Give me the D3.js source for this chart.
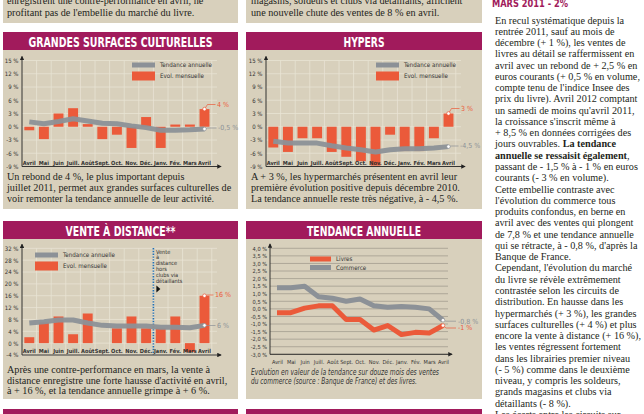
<!DOCTYPE html>
<html><head><meta charset="utf-8">
<script src="https://cdn.jsdelivr.net/npm/d3@7"></script>
<style>body{margin:0;background:#fff}svg{display:block}</style>
</head><body>
<svg id="c" width="644" height="414"></svg>
<script>
// ---------- DATA ----------
const months = ["Avril","Mai","Juin","Juill.","Août","Sept.","Oct.","Nov.","Déc.","Janv.","Fév.","Mars","Avril"];
const gscMonthly = [-0.8,-2.8,3.0,4.2,0.6,-2.8,-1.8,-4.8,2.2,-4.8,0.5,0.5,4.0];
const gscTrend   = [1.1,0.7,1.2,1.8,1.3,0.8,0.7,0.2,-0.2,-0.8,-0.8,-0.7,-0.5];
const hypMonthly = [-4.7,-5.7,-2.6,-2.6,-5.7,-6.8,-7.8,-8.8,-1.8,-5.5,-5.5,-2.6,3.0];
const hypTrend   = [-3.3,-3.7,-3.7,-3.7,-4.3,-4.8,-5.2,-5.7,-5.2,-5.0,-5.0,-4.8,-4.5];
const vadMonthly = [2.0,7.0,9.0,3.0,10.0,0.0,5.0,9.0,5.0,5.0,9.0,-3.0,16.0];
const vadTrend   = [6.8,7.2,7.8,7.8,6.8,6.0,5.8,5.8,5.8,5.4,5.4,5.2,6.0];
const livres     = [-0.25,-0.25,0.05,0.2,0.2,-0.7,-0.7,-1.4,-1.1,-1.7,-1.55,-1.6,-1.1];
const commerce   = [1.4,1.4,1.5,0.8,0.7,0.5,0.65,0.2,0.1,0.15,0.1,0.0,-0.75];
const ticksGSC   = [15,12,9,6,3,0,-3,-6,-9];
const ticksVAD   = [32,28,24,20,16,12,8,4,0,-4];
const ticksTend  = [4,3.5,3,2.5,2,1.5,1,0.5,0,-0.5,-1,-1.5,-2,-2.5,-3];
const legendBar  = ["Tendance annuelle","Evol. mensuelle"];
const legendTend = ["Livres","Commerce"];

const C = {beige:"#d8d0bc", grid:"#e9e3d4", red:"#eb5a3a", gray:"#8c9197", mag:"#a11b5c", text:"#231f20", tgrid:"#a39d8f"};
const SANS = "'Liberation Sans Narrow','DejaVu Sans Condensed','Roboto Condensed',sans-serif";
const SERIF = "'Liberation Serif','Times New Roman',serif";
const svg = d3.select("#c");

// ---------- LAYOUT ----------
[[3,0,235,23],[246,0,236,23],[3,50,235,159],[246,50,236,159],[3,239,235,160],[246,239,236,160]]
 .forEach(([x,y,w,h])=>svg.append("rect").attr("x",x).attr("y",y).attr("width",w).attr("height",h).attr("fill",C.beige));
[[3,409,235,5],[246,409,236,5]].forEach(([x,y,w,h])=>svg.append("rect").attr("x",x).attr("y",y).attr("width",w).attr("height",h).attr("fill",C.mag));

function header(x,w,y,t,len){
  svg.append("rect").attr("x",x).attr("y",y).attr("width",w).attr("height",18).attr("fill",C.mag);
  svg.append("text").attr("x",x+w/2).attr("y",y+14.5).attr("text-anchor","middle")
    .attr("textLength",len).attr("lengthAdjust","spacingAndGlyphs")
    .attr("font-family",SANS).attr("font-weight","bold").attr("font-size",14).attr("fill","#fff").text(t);
}
header(3,235,32,"GRANDES SURFACES CULTURELLES",184);
header(246,236,32,"HYPERS",41);
header(3,235,221,"VENTE À DISTANCE**",110);
header(246,236,221,"TENDANCE ANNUELLE",114);

// arrow marker
const defs = svg.append("defs");
defs.append("marker").attr("id","arr").attr("viewBox","0 0 6 6").attr("refX",5).attr("refY",3)
  .attr("markerWidth",5).attr("markerHeight",5).attr("orient","auto")
  .append("path").attr("d","M0,0L6,3L0,6Z").attr("fill","#222");

function textLines(x,y0,lh,lines,size){
  const t = svg.append("g").attr("font-family",SERIF).attr("font-size",size).attr("fill",C.text);
  lines.forEach((ln,i)=>{
    const el = t.append("text").attr("x",x).attr("y",y0+i*lh);
    (Array.isArray(ln)?ln:[[ln,false]]).forEach(([s,b])=>el.append("tspan").attr("font-weight",b?"bold":null).text(s));
  });
}

// ---------- BAR CHARTS ----------
function barChart(cfg){
  const g = svg.append("g");
  const ax = cfg.ox+22, n = months.length, step = 14.6, right = cfg.ox+217;
  const x = d3.scaleBand().domain(d3.range(n)).range([ax, ax+n*step]).paddingInner(0.32).paddingOuter(0.16);
  const y = d3.scaleLinear().domain(cfg.domain).range(cfg.range);
  const top = y(cfg.domain[1]), bot = y(cfg.domain[0]);
  g.selectAll(".hg").data(cfg.ticks).join("line").attr("x1",ax).attr("x2",right)
    .attr("y1",d=>y(d)).attr("y2",d=>y(d)).attr("stroke",C.grid).attr("stroke-width",0.8);
  g.selectAll(".vg").data(d3.range(1,n+1)).join("line")
    .attr("x1",i=>ax+i*x.step()).attr("x2",i=>ax+i*x.step()).attr("y1",top).attr("y2",bot)
    .attr("stroke",C.grid).attr("stroke-width",0.8);
  if(cfg.extra) cfg.extra(g,x,y,ax);
  g.selectAll(".bar").data(cfg.monthly).join("rect").attr("x",(d,i)=>x(i)).attr("width",x.bandwidth())
    .attr("y",d=>y(Math.max(0,d))).attr("height",d=>Math.abs(y(d)-y(0))).attr("fill",C.red);
  const line = d3.line().x((d,i)=>x(i)+x.bandwidth()/2).y(d=>y(d));
  g.append("path").datum(cfg.trend).attr("d",line).attr("fill","none").attr("stroke",C.gray)
    .attr("stroke-width",5).attr("stroke-linejoin","round").attr("stroke-opacity",0.95);
  // axes
  const ya = g.append("g").attr("transform",`translate(${ax},0)`)
    .call(d3.axisLeft(y).tickValues(cfg.ticks).tickSize(0).tickPadding(3.5).tickFormat(d=>d+" %"));
  ya.select(".domain").remove();
  ya.selectAll("text").attr("font-family",SANS).attr("font-size",6).attr("fill","#333");
  g.append("line").attr("x1",ax).attr("x2",ax).attr("y1",bot).attr("y2",top-4).attr("stroke","#222").attr("stroke-width",0.9).attr("marker-end","url(#arr)");
  g.append("line").attr("x1",ax).attr("x2",right+4).attr("y1",bot).attr("y2",bot).attr("stroke","#222").attr("stroke-width",0.9).attr("marker-end","url(#arr)");
  const xa = g.append("g").attr("transform",`translate(${x.bandwidth()/2*0},${bot-2})`)
    .call(d3.axisBottom(x).tickSize(0).tickFormat(i=>months[i]));
  xa.select(".domain").remove();
  xa.selectAll("text").attr("y",0).attr("dy",0).attr("font-family",SANS).attr("font-weight","bold")
    .attr("font-size",5.6).attr("fill","#333");
  // legend
  const L = cfg.leg;
  g.append("rect").attr("x",L.x).attr("y",L.y1-2.5).attr("width",23).attr("height",5).attr("fill",C.gray);
  g.append("rect").attr("x",L.x).attr("y",L.y2-4.5).attr("width",23).attr("height",9).attr("fill",C.red);
  [L.y1,L.y2].forEach((yy,i)=>g.append("text").attr("x",L.x+28).attr("y",yy+2).attr("font-family",SANS)
    .attr("font-size",6.2).attr("fill","#333").text(legendBar[i]));
  // annotations
  const cx = x(n-1)+x.bandwidth()/2;
  cfg.ann.forEach(a=>{
    const v = a.s==="m" ? cfg.monthly[n-1] : cfg.trend[n-1];
    const cy = y(v);
    g.append("path").attr("d",`M${cx},${cy}L${cx+3},${a.ly}H${a.lx-1.5}`).attr("fill","none")
      .attr("stroke",a.col).attr("stroke-width",0.7);
    g.append("circle").attr("cx",cx).attr("cy",cy).attr("r",1.8).attr("fill","#fff").attr("stroke",a.col).attr("stroke-width",0.7);
    g.append("text").attr("x",a.lx).attr("y",a.ly+2.4).attr("font-family",SANS).attr("font-size",7)
      .attr("fill",a.col).text(a.t);
  });
}

barChart({ox:0, monthly:gscMonthly, trend:gscTrend, domain:[-9,15], range:[166.5,60.5], ticks:ticksGSC,
  leg:{x:132,y1:65,y2:76},
  ann:[{s:"m",t:"4 %",col:C.red,lx:217,ly:104.5},{s:"t",t:"-0,5 %",col:C.gray,lx:218,ly:128}]});
barChart({ox:244, monthly:hypMonthly, trend:hypTrend, domain:[-9,15], range:[166.5,60.5], ticks:ticksGSC,
  leg:{x:376,y1:65,y2:76},
  ann:[{s:"m",t:"3 %",col:C.red,lx:461,ly:108.5},{s:"t",t:"-4,5 %",col:C.gray,lx:460,ly:146}]});
barChart({ox:0, monthly:vadMonthly, trend:vadTrend, domain:[-4,32], range:[355,248.3], ticks:ticksVAD,
  leg:{x:35,y1:255,y2:266},
  ann:[{s:"m",t:"16 %",col:C.red,lx:215,ly:295},{s:"t",t:"6 %",col:C.gray,lx:217,ly:325.5}],
  extra:(g,x,y,ax)=>{
    const bx = ax+9*x.step();
    g.append("line").attr("x1",bx).attr("x2",bx).attr("y1",248).attr("y2",355).attr("stroke","#1f6fb5")
      .attr("stroke-width",1.6).attr("stroke-dasharray","1.4,1.4");
    ["Vente","à","distance","hors","clubs via","détaillants"].forEach((s,i)=>
      g.append("text").attr("x",bx+2.5).attr("y",253.5+i*5.9).attr("font-family",SANS).attr("font-size",5.6).attr("fill","#333").text(s));
    g.append("path").attr("d",`M${bx+3},${285.5}L${bx+7},${289}L${bx+3},${292.5}Z`).attr("fill","#111");
  }});

// ---------- TENDANCE ANNUELLE ----------
(function(){
  const g = svg.append("g");
  const ax = 270, right = 448;
  const x = d3.scalePoint().domain(d3.range(months.length)).range([277,443]);
  const y = d3.scaleLinear().domain([-3,4]).range([354.3,248.3]);
  g.selectAll(".tg").data(ticksTend).join("line").attr("x1",ax).attr("x2",right)
    .attr("y1",d=>y(d)).attr("y2",d=>y(d)).attr("stroke",C.tgrid).attr("stroke-width",0.8);
  const line = d3.line().x((d,i)=>x(i)).y(d=>y(d));
  g.append("path").datum(commerce).attr("d",line).attr("fill","none").attr("stroke",C.gray).attr("stroke-width",5).attr("stroke-linejoin","round");
  g.append("path").datum(livres).attr("d",line).attr("fill","none").attr("stroke",C.red).attr("stroke-width",5).attr("stroke-linejoin","round");
  const ya = g.append("g").attr("transform",`translate(${ax},0)`)
    .call(d3.axisLeft(y).tickValues(ticksTend).tickSize(0).tickPadding(3).tickFormat(d=>d3.format(".1f")(d).replace(".",",").replace("−","-")+" %"));
  ya.select(".domain").remove();
  ya.selectAll("text").attr("font-family",SANS).attr("font-size",5.6).attr("fill","#333");
  g.append("line").attr("x1",ax).attr("x2",ax).attr("y1",354.3).attr("y2",244).attr("stroke","#222").attr("stroke-width",0.9).attr("marker-end","url(#arr)");
  g.append("line").attr("x1",ax).attr("x2",452).attr("y1",354.3).attr("y2",354.3).attr("stroke","#222").attr("stroke-width",0.9).attr("marker-end","url(#arr)");
  const xa = g.append("g").attr("transform",`translate(0,363.5)`).call(d3.axisBottom(x).tickSize(0).tickFormat(i=>months[i]));
  xa.select(".domain").remove();
  xa.selectAll("text").attr("y",0).attr("dy",0).attr("font-family",SANS).attr("font-size",5.6).attr("fill","#333");
  // legend
  [[C.red,259],[C.gray,267.5]].forEach(([c,yy],i)=>{
    g.append("line").attr("x1",310).attr("x2",331).attr("y1",yy).attr("y2",yy).attr("stroke",c).attr("stroke-width",5);
    g.append("text").attr("x",336).attr("y",yy+2.2).attr("font-family",SANS).attr("font-size",6.2).attr("fill","#333").text(legendTend[i]);
  });
  // annotations
  const n = months.length-1;
  [[commerce[n],C.gray,"-0,8 %",321.2],[livres[n],C.red,"-1 %",328]].forEach(([v,c,t,ly])=>{
    const cx = x(n), cy = y(v);
    g.append("path").attr("d",`M${cx},${cy}L${cx+3},${ly}H${456}`).attr("fill","none").attr("stroke",c).attr("stroke-width",0.7);
    g.append("circle").attr("cx",cx).attr("cy",cy).attr("r",1.8).attr("fill","#fff").attr("stroke",c).attr("stroke-width",0.7);
    g.append("text").attr("x",458).attr("y",ly+2.4).attr("font-family",SANS).attr("font-size",7).attr("fill",c).text(t);
  });
  const cap = ["Evolution en valeur de la tendance sur douze mois des ventes","du commerce (source : Banque de France) et des livres."];
  const capLen = [188,166];
  cap.forEach((s,i)=>g.append("text").attr("x",251).attr("y",375+i*9).attr("font-family",SANS).attr("font-style","italic")
    .attr("font-size",8).attr("textLength",capLen[i]).attr("lengthAdjust","spacingAndGlyphs").attr("fill","#333").text(s));
})();

// ---------- TEXTS ----------
const FS = 10.2;
textLines(7,4.3,11.2,["enregistrent une contre-performance en avril, ne","profitant pas de l'embellie du marché du livre."],FS);
textLines(251,4.3,11.2,["magasins, soldeurs et clubs via détaillants, affichent","une nouvelle chute des ventes de 8 % en avril."],FS);
textLines(7,180.3,11,["Un rebond de 4 %, le plus important depuis","juillet 2011, permet aux grandes surfaces culturelles de","voir remonter la tendance annuelle de leur activité."],FS);
textLines(251,180.3,11,["A + 3 %, les hypermarchés présentent en avril leur","première évolution positive depuis décembre 2010.","La tendance annuelle reste très négative, à - 4,5 %."],FS);
textLines(7,373,10.7,["Après une contre-performance en mars, la vente à","distance enregistre une forte hausse d'activité en avril,","à + 16 %, et la tendance annuelle grimpe à + 6 %."],FS);

svg.append("text").attr("x",492).attr("y",6.5).attr("font-family",SANS).attr("font-weight","bold")
  .attr("font-size",11).attr("fill",C.mag).attr("textLength",76).attr("lengthAdjust","spacingAndGlyphs").text("MARS 2011  - 2%");

const body = [
 "En recul systématique depuis la","rentrée 2011, sauf au mois de","décembre (+ 1 %), les ventes de",
 "livres au détail se raffermissent en","avril avec un rebond de + 2,5 % en","euros courants (+ 0,5 % en volume,",
 "compte tenu de l'indice Insee des","prix du livre). Avril 2012 comptant","un samedi de moins qu'avril 2011,",
 "la croissance s'inscrit même à","+ 8,5 % en données corrigées des",
 [["jours ouvrables. ",false],["La tendance",true]],[["annuelle se ressaisit également",true],[",",false]],
 "passant de - 1,5 % à - 1 % en euros","courants (- 3 % en volume).","Cette embellie contraste avec",
 "l'évolution du commerce tous","produits confondus, en berne en","avril avec des ventes qui plongent",
 "de 7,8 % et une tendance annuelle","qui se rétracte, à - 0,8 %, d'après la","Banque de France.",
 "Cependant, l'évolution du marché","du livre se révèle extrêmement","contrastée selon les circuits de",
 "distribution. En hausse dans les","hypermarchés (+ 3 %), les grandes","surfaces culturelles (+ 4 %) et plus",
 "encore la vente à distance (+ 16 %),","les ventes régressent fortement","dans les librairies premier niveau",
 "(- 5 %) comme dans le deuxième","niveau, y compris les soldeurs,","grands magasins et clubs via",
 "détaillants (- 8 %).","Les écarts entre les circuits sur"
];
textLines(495,23.5,11.27,body,FS);
</script>
</body></html>
